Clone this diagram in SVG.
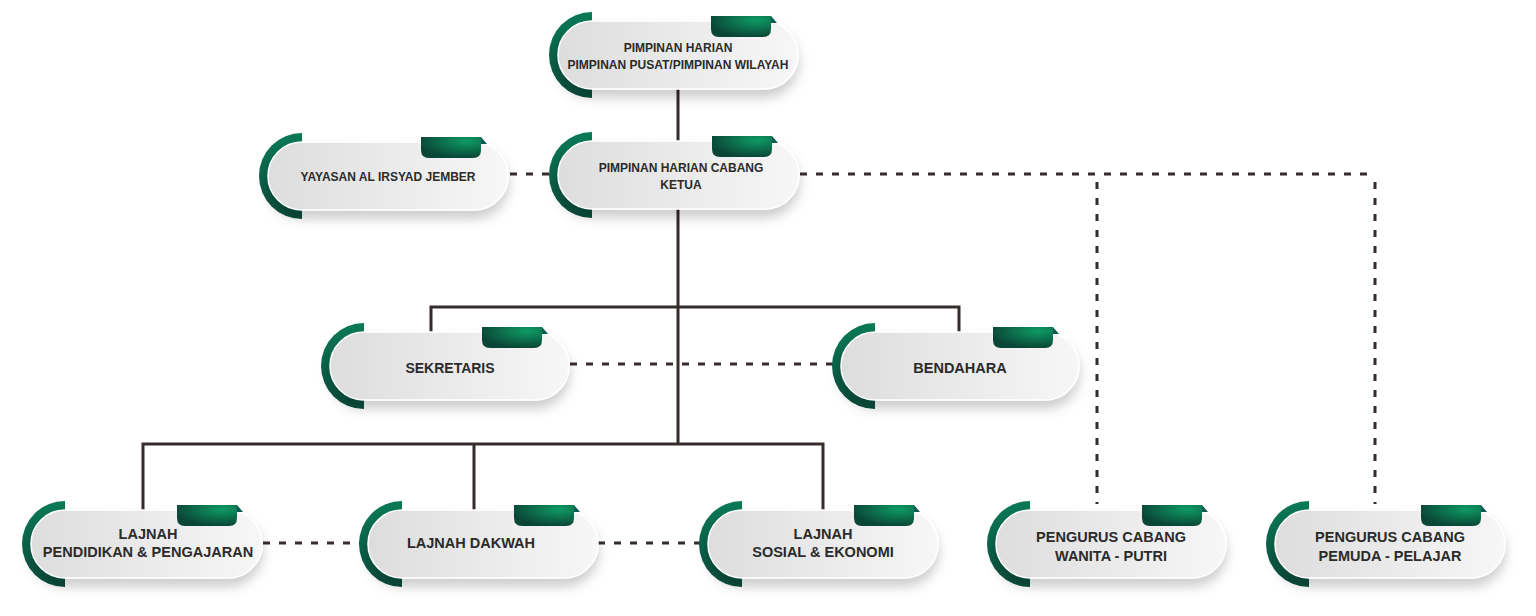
<svg xmlns="http://www.w3.org/2000/svg" width="1536" height="616" viewBox="0 0 1536 616">
<defs>
<linearGradient id="pillG" x1="0" y1="0" x2="1" y2="0">
<stop offset="0" stop-color="#dcdddc"/>
<stop offset="1" stop-color="#f7f7f7"/>
</linearGradient>
<linearGradient id="arcG" x1="0" y1="0" x2="0" y2="1">
<stop offset="0" stop-color="#0a7a56"/>
<stop offset="1" stop-color="#0b4d3d"/>
</linearGradient>
<radialGradient id="tabG" cx="0.75" cy="0.2" r="0.8">
<stop offset="0" stop-color="#0e9a64"/>
<stop offset="1" stop-color="#0a4636"/>
</radialGradient>
<filter id="sh" x="-10%" y="-20%" width="120%" height="170%">
<feDropShadow dx="0" dy="8" stdDeviation="6" flood-color="#000" flood-opacity="0.2"/>
</filter>
<g id="arc"><path d="M34 -9 A43 43 0 0 0 34 77 Z" fill="url(#arcG)"/></g>
</defs>
<style>
.pill{fill:url(#pillG);stroke:#ffffff;stroke-width:1.5;filter:url(#sh)}
.tab{fill:url(#tabG)}
.fold{fill:#0b5b52}
.t{font-family:"Liberation Sans",Arial,sans-serif;font-weight:bold;fill:#2b2b2b;text-anchor:middle}
.s{font-size:12px}
.m{font-size:14.5px}
.solid{fill:none;stroke:#352c2c;stroke-width:3}
.dash{fill:none;stroke:#352c2c;stroke-width:3;stroke-dasharray:7 9}
</style>

<g id="connectors">
<path class="solid" d="M678 89V141 M678 209V444 M431 332V307H959V332 M143 510V444H823V510 M474 444V510"/>
<path class="dash" d="M510 174H557 M800 174H1375 M1097 182V504 M1375 182V504 M570 364H840 M263 543H368 M598 543H708"/>
</g>

<g id="n-top" transform="translate(558,21)">
<use href="#arc"/>
<rect class="pill" width="240" height="68" rx="34"/>
<path class="tab" d="M153 -5H213V8Q213 16 205 16H161Q153 16 153 8Z"/>
<path class="fold" d="M213 -5L219 2H213Z"/>
<text class="t s" x="120" y="31">PIMPINAN HARIAN</text>
<text class="t s" x="120" y="48">PIMPINAN PUSAT/PIMPINAN WILAYAH</text>
</g>

<g id="n-cabang" transform="translate(558,141)">
<use href="#arc"/>
<rect class="pill" width="241" height="68" rx="34"/>
<path class="tab" d="M154 -5H214V8Q214 16 206 16H162Q154 16 154 8Z"/>
<path class="fold" d="M214 -5L220 2H214Z"/>
<text class="t s" x="123" y="31">PIMPINAN HARIAN CABANG</text>
<text class="t s" x="123" y="48">KETUA</text>
</g>

<g id="n-yayasan" transform="translate(268,142)">
<use href="#arc"/>
<rect class="pill" width="240" height="68" rx="34"/>
<path class="tab" d="M153 -5H213V8Q213 16 205 16H161Q153 16 153 8Z"/>
<path class="fold" d="M213 -5L219 2H213Z"/>
<text class="t s" x="120" y="39">YAYASAN AL IRSYAD JEMBER</text>
</g>

<g id="n-sekretaris" transform="translate(330,332)">
<use href="#arc"/>
<rect class="pill" width="239" height="68" rx="34"/>
<path class="tab" d="M152 -5H212V8Q212 16 204 16H160Q152 16 152 8Z"/>
<path class="fold" d="M212 -5L218 2H212Z"/>
<text class="t" x="120" y="41" style="font-size:14px">SEKRETARIS</text>
</g>

<g id="n-bendahara" transform="translate(841,332)">
<use href="#arc"/>
<rect class="pill" width="238" height="68" rx="34"/>
<path class="tab" d="M152 -5H212V8Q212 16 204 16H160Q152 16 152 8Z"/>
<path class="fold" d="M212 -5L218 2H212Z"/>
<text class="t m" x="119" y="41">BENDAHARA</text>
</g>

<g id="n-pendidikan" transform="translate(31,510)">
<use href="#arc"/>
<rect class="pill" width="231" height="68" rx="34"/>
<path class="tab" d="M146 -5H206V8Q206 16 198 16H154Q146 16 146 8Z"/>
<path class="fold" d="M206 -5L212 2H206Z"/>
<text class="t m" x="117" y="29">LAJNAH</text>
<text class="t m" x="117" y="47">PENDIDIKAN &amp; PENGAJARAN</text>
</g>

<g id="n-dakwah" transform="translate(368,510)">
<use href="#arc"/>
<rect class="pill" width="230" height="68" rx="34"/>
<path class="tab" d="M146 -5H206V8Q206 16 198 16H154Q146 16 146 8Z"/>
<path class="fold" d="M206 -5L212 2H206Z"/>
<text class="t m" x="103" y="38">LAJNAH DAKWAH</text>
</g>

<g id="n-sosial" transform="translate(708,510)">
<use href="#arc"/>
<rect class="pill" width="230" height="68" rx="34"/>
<path class="tab" d="M146 -5H206V8Q206 16 198 16H154Q146 16 146 8Z"/>
<path class="fold" d="M206 -5L212 2H206Z"/>
<text class="t m" x="115" y="29">LAJNAH</text>
<text class="t m" x="115" y="47">SOSIAL &amp; EKONOMI</text>
</g>

<g id="n-wanita" transform="translate(996,510)">
<use href="#arc"/>
<rect class="pill" width="230" height="68" rx="34"/>
<path class="tab" d="M146 -5H206V8Q206 16 198 16H154Q146 16 146 8Z"/>
<path class="fold" d="M206 -5L212 2H206Z"/>
<text class="t m" x="115" y="32">PENGURUS CABANG</text>
<text class="t m" x="115" y="51">WANITA - PUTRI</text>
</g>

<g id="n-pemuda" transform="translate(1275,510)">
<use href="#arc"/>
<rect class="pill" width="230" height="68" rx="34"/>
<path class="tab" d="M146 -5H206V8Q206 16 198 16H154Q146 16 146 8Z"/>
<path class="fold" d="M206 -5L212 2H206Z"/>
<text class="t m" x="115" y="32">PENGURUS CABANG</text>
<text class="t m" x="115" y="51">PEMUDA - PELAJAR</text>
</g>
</svg>
